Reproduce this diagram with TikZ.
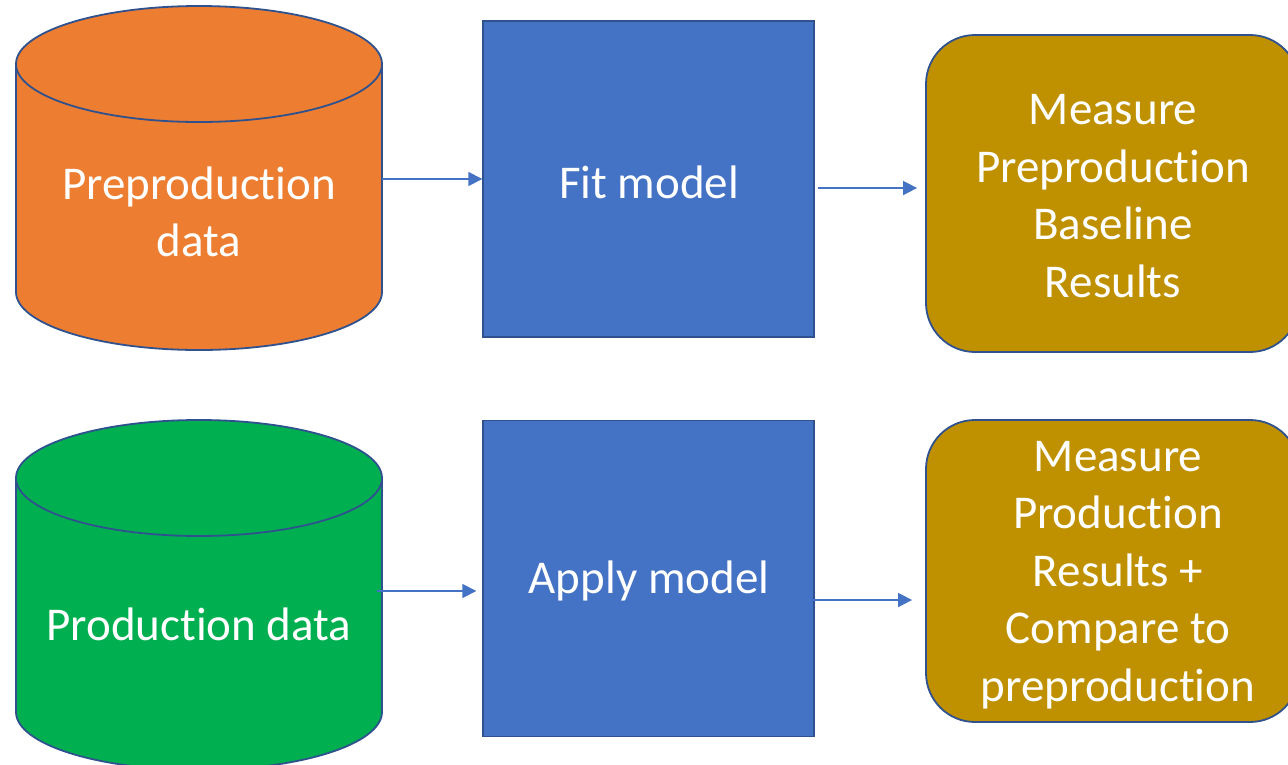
\documentclass[tikz,border=0pt]{standalone}
\usepackage{fontspec}
\setmainfont{Carlito}[Ligatures=NoCommon,RawFeature={-calt}]
\usetikzlibrary{arrows.meta}
\newcommand{\txi}{t\kern0pt i}
\definecolor{cylorange}{HTML}{ED7D31}
\definecolor{cylgreen}{HTML}{00B050}
\definecolor{boxblue}{HTML}{4472C4}
\definecolor{boxgold}{HTML}{BF9000}
\definecolor{edgeblue}{HTML}{2F528F}
\begin{document}
\begin{tikzpicture}[x=1pt,y=1pt,
  lbl/.style={text=white, align=center, font=\fontsize{47}{57.5}\selectfont, inner sep=0pt},
  cylline/.style={draw=edgeblue, line width=1.8pt},
  bluebox/.style={draw=edgeblue, fill=boxblue, line width=1.4pt, minimum width=331pt, minimum height=316pt, inner sep=0pt},
  goldbox/.style={draw=edgeblue, fill=boxgold, line width=1.8pt, rounded corners=49pt, inner sep=0pt},
  flow/.style={draw=boxblue, line width=1.6pt, -{Triangle[length=14pt,width=14pt]}}]
\useasboundingbox (0,0) rectangle (1288,-764);
\clip (0,0) rectangle (1288,-764);
% top cylinder
\draw[cylline, fill=cylorange] (16,-64) -- (16,-292)
  arc[start angle=180, end angle=360, x radius=183pt, y radius=58pt]
  -- (382,-64) arc[start angle=0, end angle=180, x radius=183pt, y radius=58pt] -- cycle;
\draw[cylline] (16,-64) arc[start angle=180, end angle=360, x radius=183pt, y radius=58pt];
\node[lbl] (pre) at (199,-212) {Preproduc\txi on\\data};
\coordinate (preE) at (382,-179);
% bottom cylinder
\draw[cylline, fill=cylgreen] (16,-478) -- (16,-712)
  arc[start angle=180, end angle=360, x radius=183pt, y radius=58pt]
  -- (382,-478) arc[start angle=0, end angle=180, x radius=183pt, y radius=58pt] -- cycle;
\draw[cylline] (16,-478) arc[start angle=180, end angle=360, x radius=183pt, y radius=58pt];
\node[lbl] (prod) at (199,-624) {Produc\txi on data};
\coordinate (prodE) at (377,-591);
% blue boxes
\node[bluebox] (fit) at (648.5,-179) {};
\node[lbl] (fitT) at (649,-182) {Fit model};
\node[bluebox] (apply) at (648.5,-578.5) {};
\node[lbl] (applyT) at (649,-581) {Apply model};
% gold boxes
\node[goldbox, minimum width=373pt, minimum height=317pt] (base) at (1112.5,-193.5) {};
\node[lbl] (baseT) at (1113,-196) {Measure\\Preproduc\txi on\\Baseline\\Results};
\node[goldbox, minimum width=373pt, minimum height=302pt] (comp) at (1112.5,-571) {};
\node[lbl] (compT) at (1118,-575) {Measure\\Produc\txi on\\Results +\\Compare to\\preproduc\txi on};
\coordinate (fitE) at (818,-188);
\coordinate (applyE) at (812,-600);
% connectors
\draw[flow] (preE) -- (fit.west |- preE);
\draw[flow, shorten >=6pt] (prodE) -- (apply.west |- prodE);
\draw[flow, shorten >=8pt] (fitE) -- (base.west |- fitE);
\draw[flow, shorten >=13pt] (applyE) -- (comp.west |- applyE);
\end{tikzpicture}
\end{document}
